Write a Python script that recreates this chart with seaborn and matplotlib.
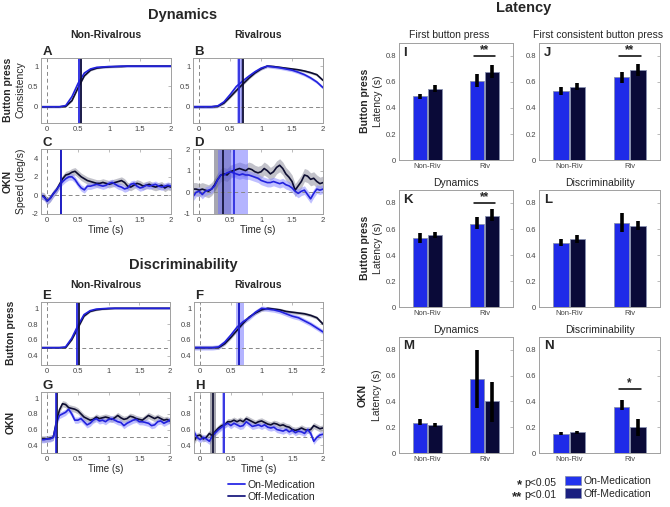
import numpy as np
import pandas as pd
import matplotlib
matplotlib.use('Agg')
import matplotlib.pyplot as plt
import seaborn as sns
from matplotlib.lines import Line2D
from matplotlib.patches import Patch

# ---------------- DATA ----------------
# time grids (s)
t10 = np.round(np.linspace(-0.1, 2.0, 22), 2)
t05 = np.round(np.linspace(-0.1, 2.0, 43), 2)

# A: dynamics, non-rivalrous, button press consistency
A_on = [0, 0, 0, 0, 0.03, 0.25, 0.58, 0.83, 0.93, 0.97, 0.98, 0.99, 0.99, 1, 1, 1, 1, 1, 1, 1, 1, 1]
A_off = [0, 0, 0, 0, 0.01, 0.15, 0.47, 0.76, 0.9, 0.95, 0.97, 0.98, 0.99, 0.99, 1, 1, 1, 1, 1, 1, 1, 1]
# B: dynamics, rivalrous
B_on = [0, 0, 0, 0, 0.02, 0.12, 0.3, 0.5, 0.63, 0.75, 0.86, 0.95, 1.0, 0.98, 0.96, 0.93, 0.9, 0.85, 0.79, 0.71, 0.61, 0.47]
B_off = [0, 0, 0, 0, 0.01, 0.09, 0.24, 0.4, 0.55, 0.7, 0.83, 0.93, 1.0, 0.99, 0.97, 0.95, 0.93, 0.91, 0.88, 0.84, 0.79, 0.65]
# C: dynamics, non-rivalrous, OKN speed
C_on = [0.0, -0.2, -0.6, -0.3, 0.2, 0.6, 1.1, 1.5, 1.8, 2.0, 2.0, 1.7, 1.2, 0.8, 0.6, 1.0, 1.0, 1.1, 1.2, 1.1,
        1.0, 1.1, 1.3, 1.4, 1.2, 1.0, 0.9, 0.7, 0.8, 1.2, 1.3, 1.0, 0.8, 0.9, 1.1, 1.0, 1.1, 1.2, 1.0, 0.9,
        1.0, 1.1, 1.0]
C_off = [0.0, -0.1, -0.6, -0.3, 0.2, 0.6, 1.2, 1.8, 2.2, 2.3, 2.5, 2.6, 2.3, 2.0, 1.8, 1.6, 1.5, 1.4, 1.3, 1.3,
         1.4, 1.3, 1.2, 1.3, 1.4, 1.5, 1.6, 1.4, 1.0, 0.9, 1.1, 1.3, 1.2, 1.0, 1.1, 1.2, 1.0, 0.9, 1.0, 1.1,
         0.8, 1.0, 0.9]
# D: dynamics, rivalrous, OKN speed
D_on = [-0.2, 0.0, 0.05, -0.1, 0.05, 0.1, 0.15, 0.3, 0.6, 0.8, 0.8, 0.9, 0.95, 0.9, 0.85, 0.8, 0.85, 0.8, 0.8, 0.75,
        0.7, 0.65, 0.55, 0.5, 0.45, 0.45, 0.5, 0.45, 0.4, 0.45, 0.35, 0.3, 0.2, 0.05, -0.05, 0.05, 0.1, -0.1, -0.3, -0.05,
        0.15, 0.1, 0.15]
D_off = [0.15, 0.15, 0.1, 0.15, 0.1, 0.05, 0.15, 0.35, 0.6, 0.8, 0.85, 0.8, 0.95, 1.0, 1.05, 1.1, 1.05, 1.0, 1.1, 1.05,
         0.95, 0.9, 0.95, 1.1, 1.0, 0.85, 0.95, 1.15, 1.25, 1.1, 0.85, 0.7, 0.5, 0.1, 0.3, 0.5, 0.8, 0.75, 0.6, 0.65,
         0.5, 0.4, 0.45]
# E: discriminability, non-rivalrous, button press
E_on = [0.5, 0.5, 0.5, 0.5, 0.51, 0.62, 0.78, 0.92, 0.97, 0.99, 0.995, 1, 1, 1, 1, 1, 1, 1, 1, 1, 1, 1]
E_off = [0.5, 0.5, 0.5, 0.5, 0.5, 0.6, 0.75, 0.9, 0.96, 0.98, 0.99, 0.995, 1, 1, 1, 1, 1, 1, 1, 1, 1, 1]
# F: discriminability, rivalrous, button press
F_on = [0.5, 0.5, 0.5, 0.5, 0.51, 0.57, 0.66, 0.76, 0.83, 0.88, 0.95, 1.0, 0.99, 0.98, 0.96, 0.93, 0.9, 0.88, 0.84, 0.8, 0.75, 0.7]
F_off = [0.5, 0.5, 0.5, 0.5, 0.5, 0.55, 0.63, 0.72, 0.81, 0.89, 0.94, 0.98, 1.0, 0.99, 0.98, 0.96, 0.95, 0.94, 0.93, 0.91, 0.88, 0.8]
# G: discriminability, non-rivalrous, OKN
G_on = [0.47, 0.47, 0.48, 0.48, 0.5, 0.68, 0.78, 0.8, 0.82, 0.86, 0.8, 0.72, 0.72, 0.74, 0.7, 0.66, 0.68, 0.72, 0.74, 0.71,
        0.72, 0.7, 0.73, 0.74, 0.72, 0.7, 0.69, 0.65, 0.68, 0.7, 0.72, 0.73, 0.7, 0.7, 0.69, 0.68, 0.65, 0.66, 0.7, 0.71,
        0.68, 0.7, 0.72]
G_off = [0.48, 0.48, 0.48, 0.49, 0.5, 0.7, 0.85, 0.93, 0.92, 0.88, 0.87, 0.86, 0.84, 0.8, 0.76, 0.74, 0.72, 0.73, 0.76, 0.74,
         0.75, 0.76, 0.75, 0.73, 0.75, 0.78, 0.75, 0.73, 0.74, 0.77, 0.76, 0.74, 0.73, 0.72, 0.75, 0.78, 0.76, 0.74, 0.76, 0.74,
         0.72, 0.73, 0.71]
# H: discriminability, rivalrous, OKN
H_on = [0.57, 0.5, 0.47, 0.5, 0.48, 0.45, 0.52, 0.56, 0.6, 0.63, 0.66, 0.68, 0.65, 0.68, 0.66, 0.64, 0.65, 0.7, 0.67, 0.64,
        0.65, 0.66, 0.64, 0.66, 0.63, 0.62, 0.63, 0.6, 0.59, 0.58, 0.6, 0.57, 0.59, 0.56, 0.58, 0.57, 0.55, 0.6, 0.55, 0.45,
        0.5, 0.53, 0.54]
H_off = [0.45, 0.52, 0.53, 0.48, 0.5, 0.55, 0.52, 0.58, 0.62, 0.65, 0.66, 0.7, 0.7, 0.72, 0.7, 0.72, 0.7, 0.74, 0.72, 0.7,
         0.68, 0.7, 0.71, 0.69, 0.67, 0.66, 0.68, 0.67, 0.65, 0.66, 0.64, 0.63, 0.6, 0.59, 0.6, 0.62, 0.6, 0.59, 0.6, 0.65,
         0.63, 0.61, 0.62]

# shaded error half-widths (on, off)
sem = {'A': (0.03, 0.02), 'B': (0.04, 0.03), 'C': (0.35, 0.4), 'D': (0.2, 0.3),
       'E': (0.01, 0.01), 'F': (0.03, 0.02), 'G': (0.04, 0.04), 'H': (0.04, 0.04)}
# latency markers: (latency, ci low, ci high) for on / off
lat_on = {'A': (0.51, 0.49, 0.56), 'B': (0.64, 0.61, 0.70), 'C': (0.22, 0.21, 0.23), 'D': (0.57, 0.30, 0.79),
          'E': (0.49, 0.47, 0.52), 'F': (0.63, 0.59, 0.72), 'G': (0.15, 0.14, 0.16), 'H': (0.385, 0.36, 0.41)}
lat_off = {'A': (0.55, 0.53, 0.57), 'B': (0.70, 0.67, 0.73), 'C': (0.22, 0.21, 0.23), 'D': (0.39, 0.24, 0.52),
           'E': (0.52, 0.51, 0.54), 'F': (0.63, 0.61, 0.65), 'G': (0.155, 0.15, 0.16), 'H': (0.21, 0.165, 0.26)}

# latency bars
bar_cats = ['Non-Riv', 'Riv']
I_on, I_on_lo, I_on_hi = [0.49, 0.61], [0.47, 0.56], [0.51, 0.66]
I_off, I_off_lo, I_off_hi = [0.55, 0.68], [0.52, 0.63], [0.58, 0.73]
J_on, J_on_lo, J_on_hi = [0.53, 0.635], [0.50, 0.59], [0.56, 0.68]
J_off, J_off_lo, J_off_hi = [0.565, 0.69], [0.54, 0.65], [0.59, 0.74]
K_on, K_on_lo, K_on_hi = [0.53, 0.64], [0.49, 0.60], [0.57, 0.69]
K_off, K_off_lo, K_off_hi = [0.555, 0.70], [0.53, 0.66], [0.58, 0.75]
L_on, L_on_lo, L_on_hi = [0.49, 0.645], [0.47, 0.58], [0.52, 0.72]
L_off, L_off_lo, L_off_hi = [0.52, 0.62], [0.49, 0.59], [0.55, 0.66]
M_on, M_on_lo, M_on_hi = [0.235, 0.575], [0.22, 0.35], [0.26, 0.80]
M_off, M_off_lo, M_off_hi = [0.215, 0.40], [0.20, 0.24], [0.23, 0.55]
N_on, N_on_lo, N_on_hi = [0.15, 0.36], [0.14, 0.33], [0.16, 0.41]
N_off, N_off_lo, N_off_hi = [0.16, 0.20], [0.15, 0.13], [0.17, 0.26]

# ---------------- STYLE ----------------
sns.set_style('white')
plt.rcParams['font.family'] = ['Liberation Sans', 'DejaVu Sans']

ON = '#2222dd'
OFF = '#0c0c30'
ON_BAR = '#1f2ae8'
OFF_BAR = '#0a0a38'
SPINE = '#a0a0a0'

W, H = 670, 507
fig = plt.figure(figsize=(6.7, 5.07), dpi=100)


def box(x0, y0, x1, y1):
    return [x0 / W, 1 - y1 / H, (x1 - x0) / W, (y1 - y0) / H]


def style_ax(ax):
    for s in ax.spines.values():
        s.set_color(SPINE)
        s.set_linewidth(0.7)
    ax.tick_params(direction='in', length=2, width=0.5, labelsize=5.5,
                   colors=SPINE, labelcolor='#444444', pad=2,
                   top=True, right=True)


def time_panel(pos, key, t, on, off, ylim, yticks, ylabels, base, letter, xlabel=False):
    ax = fig.add_axes(pos)
    s_on, s_off = sem[key]
    ax.fill_between(t, np.array(off) - s_off, np.array(off) + s_off, color='#9a9aa8', alpha=0.6, lw=0)
    ax.fill_between(t, np.array(on) - s_on, np.array(on) + s_on, color='#8c8cff', alpha=0.55, lw=0)
    ax.axhline(base, color='#888888', ls=(0, (4, 3)), lw=0.7)
    ax.axvline(0, color='#888888', ls=(0, (4, 3)), lw=0.7)
    sns.lineplot(x=t, y=off, color=OFF, lw=1.2, ax=ax)
    sns.lineplot(x=t, y=on, color=ON, lw=1.2, ax=ax)
    l, lo, hi = lat_off[key]
    ax.axvspan(lo, hi, color='#505064', alpha=0.5, lw=0)
    ax.axvline(l, color=OFF, lw=1.2)
    l, lo, hi = lat_on[key]
    ax.axvspan(lo, hi, color='#6a6aff', alpha=0.5, lw=0)
    ax.axvline(l, color=ON, lw=1.2)
    ax.set_xlim(-0.1, 2.0)
    ax.set_ylim(*ylim)
    ax.set_xticks([0, 0.5, 1, 1.5, 2])
    ax.set_xticklabels(['0', '0.5', '1', '1.5', '2'])
    ax.set_yticks(yticks)
    ax.set_yticklabels(ylabels)
    style_ax(ax)
    if xlabel:
        ax.set_xlabel('Time (s)', fontsize=7, labelpad=1)
    ax.text(0.01, 1.0, letter, transform=ax.transAxes, fontsize=9.5, fontweight='bold',
            va='bottom', ha='left')
    return ax


def bar_panel(pos, letter, on, on_lo, on_hi, off, off_lo, off_hi, sig=None, sig_y=0.8):
    ax = fig.add_axes(pos)
    df = pd.DataFrame({'cond': bar_cats * 2,
                       'med': ['On'] * 2 + ['Off'] * 2,
                       'lat': on + off,
                       'lo': on_lo + off_lo,
                       'hi': on_hi + off_hi})
    sns.barplot(data=df, x='cond', y='lat', hue='med', hue_order=['On', 'Off'],
                palette=[ON_BAR, OFF_BAR], width=0.54, gap=0.06, errorbar=None,
                legend=False, saturation=1, edgecolor='#8890b0', linewidth=0.6, ax=ax)
    centers = {}
    for cont in ax.containers:
        for bar in cont:
            xc = bar.get_x() + bar.get_width() / 2
            ci = int(round(xc))
            med = 'On' if xc < ci else 'Off'
            row = df[(df['cond'] == bar_cats[ci]) & (df['med'] == med)].iloc[0]
            ax.vlines(xc, row['lo'], row['hi'], color='black', lw=2.6, zorder=5)
            centers[(ci, med)] = xc
    if sig:
        x0 = centers[(1, 'On')] - 0.05
        x1 = centers[(1, 'Off')] + 0.05
        ax.plot([x0, x1], [sig_y, sig_y], color='black', lw=1.1)
        ax.text((x0 + x1) / 2, sig_y - 0.005, sig, ha='center', va='bottom',
                fontsize=8.5, fontweight='bold')
    ax.set_xlim(-0.5, 1.5)
    ax.set_ylim(0, 0.9)
    ax.set_yticks([0, 0.2, 0.4, 0.6, 0.8])
    ax.set_yticklabels(['0', '0.2', '0.4', '0.6', '0.8'])
    ax.set_xlabel('')
    ax.set_ylabel('')
    style_ax(ax)
    ax.tick_params(axis='x', length=0)
    ax.text(0.04, 0.97, letter, transform=ax.transAxes, fontsize=9.5, fontweight='bold',
            va='top', ha='left')
    return ax


# ---------------- LEFT: time courses ----------------
yb = [0, 0.5, 1]
ybl = ['0', '0.5', '1']
yd = [0.4, 0.6, 0.8, 1]
ydl = ['0.4', '0.6', '0.8', '1']
time_panel(box(41, 58, 171, 123), 'A', t10, A_on, A_off, (-0.4, 1.2), yb, ybl, 0, 'A')
time_panel(box(193, 58, 323, 123), 'B', t10, B_on, B_off, (-0.4, 1.2), yb, ybl, 0, 'B')
time_panel(box(41, 149, 171, 214), 'C', t05, C_on, C_off, (-2, 5), [-2, 0, 2, 4], ['-2', '0', '2', '4'], 0, 'C', True)
time_panel(box(193, 149, 323, 214), 'D', t05, D_on, D_off, (-1, 2), [-1, 0, 1, 2], ['-1', '0', '1', '2'], 0, 'D', True)
time_panel(box(41, 302, 170, 365), 'E', t10, E_on, E_off, (0.28, 1.08), yd, ydl, 0.5, 'E')
time_panel(box(194, 302, 323, 365), 'F', t10, F_on, F_off, (0.28, 1.08), yd, ydl, 0.5, 'F')
time_panel(box(41, 392, 170, 453), 'G', t05, G_on, G_off, (0.3, 1.08), yd, ydl, 0.5, 'G', True)
time_panel(box(194, 392, 323, 453), 'H', t05, H_on, H_off, (0.3, 1.08), yd, ydl, 0.5, 'H', True)

# ---------------- RIGHT: latency bars ----------------
bar_panel(box(399, 43, 513, 160), 'I', I_on, I_on_lo, I_on_hi, I_off, I_off_lo, I_off_hi, '**')
bar_panel(box(539, 43, 660, 160), 'J', J_on, J_on_lo, J_on_hi, J_off, J_off_lo, J_off_hi, '**')
bar_panel(box(399, 190, 513, 307), 'K', K_on, K_on_lo, K_on_hi, K_off, K_off_lo, K_off_hi, '**')
bar_panel(box(539, 190, 660, 307), 'L', L_on, L_on_lo, L_on_hi, L_off, L_off_lo, L_off_hi)
bar_panel(box(399, 337, 513, 453), 'M', M_on, M_on_lo, M_on_hi, M_off, M_off_lo, M_off_hi)
bar_panel(box(539, 337, 660, 453), 'N', N_on, N_on_lo, N_on_hi, N_off, N_off_lo, N_off_hi, '*', 0.5)

# ---------------- TEXT ----------------
def ftext(x, y, s, **kw):
    fig.text(x / W, 1 - y / H, s, **kw)

ftext(183, 15, 'Dynamics', ha='center', va='center', fontsize=10.5, fontweight='bold')
ftext(106, 35, 'Non-Rivalrous', ha='center', va='center', fontsize=7.5, fontweight='bold')
ftext(258, 35, 'Rivalrous', ha='center', va='center', fontsize=7.5, fontweight='bold')
ftext(183, 265, 'Discriminability', ha='center', va='center', fontsize=10.5, fontweight='bold')
ftext(106, 285, 'Non-Rivalrous', ha='center', va='center', fontsize=7.5, fontweight='bold')
ftext(258, 285, 'Rivalrous', ha='center', va='center', fontsize=7.5, fontweight='bold')
ftext(524, 8, 'Latency', ha='center', va='center', fontsize=10.5, fontweight='bold')

ftext(449, 35, 'First button press', ha='center', va='center', fontsize=7.5)
ftext(598, 35, 'First consistent button press', ha='center', va='center', fontsize=7.5)
ftext(456, 183, 'Dynamics', ha='center', va='center', fontsize=7.5)
ftext(600, 183, 'Discriminability', ha='center', va='center', fontsize=7.5)
ftext(456, 330, 'Dynamics', ha='center', va='center', fontsize=7.5)
ftext(600, 330, 'Discriminability', ha='center', va='center', fontsize=7.5)

rot = dict(rotation=90, ha='center', va='center', fontsize=7.5)
ftext(8, 90, 'Button press', fontweight='bold', **rot)
ftext(21, 90, 'Consistency', **rot)
ftext(8, 181, 'OKN', fontweight='bold', **rot)
ftext(21, 181, 'Speed (deg/s)', **rot)
ftext(11, 333, 'Button press', fontweight='bold', **rot)
ftext(11, 422, 'OKN', fontweight='bold', **rot)
ftext(365, 101, 'Button press', fontweight='bold', **rot)
ftext(378, 101, 'Latency (s)', **rot)
ftext(365, 248, 'Button press', fontweight='bold', **rot)
ftext(378, 248, 'Latency (s)', **rot)
ftext(363, 395, 'OKN', fontweight='bold', **rot)
ftext(377, 395, 'Latency (s)', **rot)

# legends
line_handles = [Line2D([], [], color='#2a2ae6', lw=1.3), Line2D([], [], color='#1c1c80', lw=1.3)]
fig.legend(line_handles, ['On-Medication', 'Off-Medication'], loc='upper left',
           bbox_to_anchor=(228 / W, 1 - 480 / H), frameon=False, fontsize=7.5,
           handlelength=1.6, handletextpad=0.3, labelspacing=0.15, borderpad=0, borderaxespad=0)

patch_handles = [Patch(facecolor='#2233ee', edgecolor='#8890b0', lw=0.6),
                 Patch(facecolor='#1a1f80', edgecolor='#8890b0', lw=0.6)]
fig.legend(patch_handles, ['On-Medication', 'Off-Medication'], loc='upper left',
           bbox_to_anchor=(565 / W, 1 - 476 / H), frameon=False, fontsize=7.5,
           handlelength=1.5, handleheight=1.0, handletextpad=0.3, labelspacing=0.2,
           borderpad=0, borderaxespad=0)

ftext(522, 479, '*', ha='right', va='top', fontsize=9.5, fontweight='bold')
ftext(524, 483, 'p<0.05', ha='left', va='center', fontsize=7.5)
ftext(522, 491, '**', ha='right', va='top', fontsize=9.5, fontweight='bold')
ftext(524, 495, 'p<0.01', ha='left', va='center', fontsize=7.5)

fig.savefig('out.png', dpi=100)
